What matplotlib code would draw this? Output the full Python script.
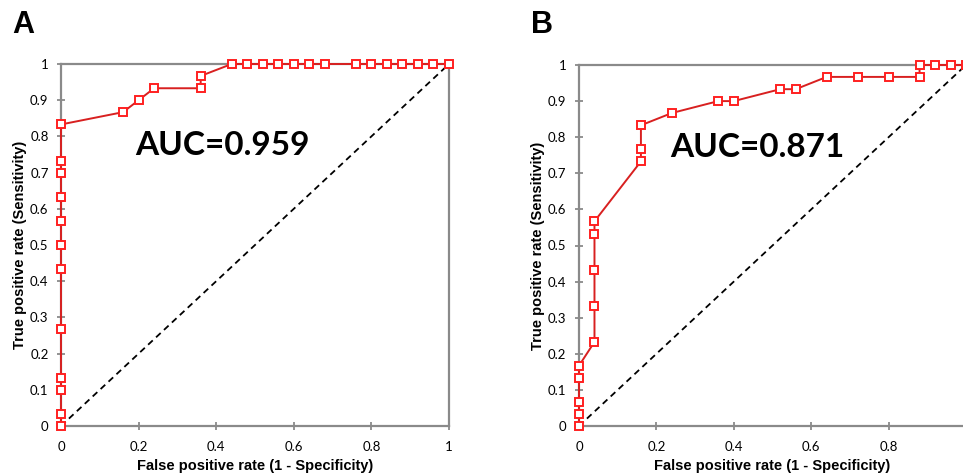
import matplotlib
matplotlib.use("Agg")
import matplotlib.pyplot as plt

# Panel A ROC points
fpr_a = [0, 0, 0, 0, 0, 0, 0, 0, 0, 0, 0, 0,
         0.16, 0.20, 0.24, 0.36, 0.36, 0.44, 0.48, 0.52, 0.56, 0.60, 0.64, 0.68,
         0.76, 0.80, 0.84, 0.88, 0.92, 0.96, 1.00]
tpr_a = [0, 0.033, 0.100, 0.133, 0.267, 0.433, 0.500, 0.567, 0.633, 0.700, 0.733, 0.833,
         0.867, 0.900, 0.933, 0.933, 0.967, 1, 1, 1, 1, 1, 1, 1,
         1, 1, 1, 1, 1, 1, 1]

# Panel B ROC points
fpr_b = [0, 0, 0, 0, 0, 0.04, 0.04, 0.04, 0.04, 0.04, 0.16, 0.16, 0.16,
         0.24, 0.36, 0.40, 0.52, 0.56, 0.64, 0.72, 0.80, 0.88, 0.88, 0.92, 0.96, 1.00]
tpr_b = [0, 0.033, 0.067, 0.133, 0.167, 0.233, 0.333, 0.433, 0.533, 0.567, 0.733, 0.767, 0.833,
         0.867, 0.900, 0.900, 0.933, 0.933, 0.967, 0.967, 0.967, 0.967, 1, 1, 1, 1]

auc_labels = ["AUC=0.959", "AUC=0.871"]
panel_letters = ["A", "B"]
ticks = [0, 0.1, 0.2, 0.3, 0.4, 0.5, 0.6, 0.7, 0.8, 0.9, 1]
xticks = [0, 0.2, 0.4, 0.6, 0.8, 1]
tick_labels_y = ["0", "0.1", "0.2", "0.3", "0.4", "0.5", "0.6", "0.7", "0.8", "0.9", "1"]
tick_labels_x = ["0", "0.2", "0.4", "0.6", "0.8", "1"]

fig = plt.figure(figsize=(9.63, 4.74), dpi=100)
W, H = 963, 474

def px_axes(x0, x1, ytop, ybot):
    return fig.add_axes([x0 / W, (H - ybot) / H, (x1 - x0) / W, (ybot - ytop) / H])

axA = px_axes(61, 449, 64, 426)
axB = px_axes(579, 966, 65, 426)

grey = "#8a8a8a"
red = "#d82020"
tickfont = "Lato"

panels = [(axA, fpr_a, tpr_a, auc_labels[0], (0.19, 0.775), panel_letters[0], 12),
          (axB, fpr_b, tpr_b, auc_labels[1], (0.235, 0.772), panel_letters[1], 531)]

for ax, fx, ty, auc, pos, letter, lx in panels:
    ax.set_xlim(0, 1)
    ax.set_ylim(0, 1)
    ax.plot([0, 1], [0, 1], ls=(0, (3.5, 2.5)), color="black", lw=1.3, zorder=2)
    ax.plot(fx, ty, color=red, lw=1.4, marker="s", markersize=5.2,
            markerfacecolor="white", markeredgecolor="#ff2020", markeredgewidth=1.4,
            clip_on=False, zorder=3)
    for s in ax.spines.values():
        s.set_color(grey)
        s.set_linewidth(1.6)
    ax.set_xticks(xticks)
    ax.set_xticklabels(tick_labels_x, fontfamily=tickfont, fontsize=9.5)
    ax.set_yticks(ticks)
    ax.set_yticklabels(tick_labels_y, fontfamily=tickfont, fontsize=9.5)
    ax.tick_params(direction="inout", length=6, width=1.3, color=grey, pad=6)
    ax.tick_params(axis="x", pad=8)
    ax.set_xlabel("False positive rate (1 - Specificity)", fontfamily="Liberation Sans",
                  fontweight="bold", fontsize=10.5, labelpad=4)
    ax.set_ylabel("True positive rate (Sensitivity)", fontfamily="Liberation Sans",
                  fontweight="bold", fontsize=10.5, labelpad=2)
    ax.text(pos[0], pos[1], auc, transform=ax.transAxes, fontfamily="Lato",
            fontweight="bold", fontsize=24, va="center", ha="left")
    fig.text(lx / W, 1 - 10 / H, letter, fontfamily="Liberation Sans", fontweight="bold",
             fontsize=22, va="top", ha="left")

fig.savefig("out.png", dpi=100)
